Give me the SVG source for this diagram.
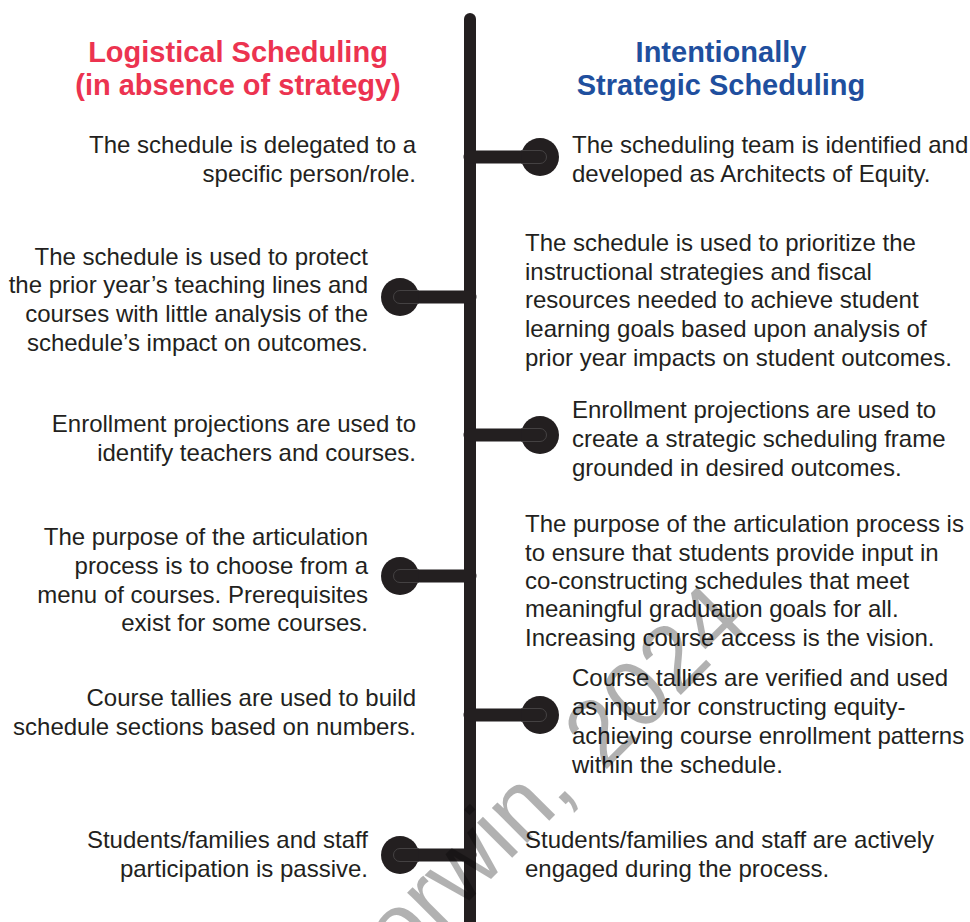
<svg xmlns="http://www.w3.org/2000/svg" width="970" height="922" viewBox="0 0 970 922">
  <style>
    .body { font-family: "Liberation Sans", Arial, Helvetica, sans-serif; font-size: 24px; fill: #231f20; }
    .end { text-anchor: end; }
    .title { font-family: "Liberation Sans", Arial, Helvetica, sans-serif; font-size: 29px; font-weight: bold; text-anchor: middle; }
    .red { fill: #ec3350; }
    .blue { fill: #1f4f9e; }
    .spine { stroke: #231f20; stroke-width: 12; stroke-linecap: round; fill: none; }
    .bar { stroke: #231f20; stroke-width: 13; stroke-linecap: round; fill: none; }
    .knob { fill: #231f20; }
    .rim { stroke: #4d4a4b; stroke-width: 0.8; fill: none; }
    .mark { font-family: "Liberation Sans", Arial, Helvetica, sans-serif; font-size: 94px; fill: #000; opacity: 0.3; }
  </style>

  <!-- column headings -->
  <g id="heading-left">
    <text class="title red" x="238" y="62">Logistical Scheduling</text>
    <text class="title red" x="238" y="95">(in absence of strategy)</text>
  </g>
  <g id="heading-right">
    <text class="title blue" x="721" y="62">Intentionally</text>
    <text class="title blue" x="721" y="95">Strategic Scheduling</text>
  </g>

  <!-- timeline spine and branches -->
  <g id="connectors">
    <line class="spine" x1="470" y1="19" x2="470" y2="940"/>
    <!-- right branches -->
    <line class="bar" x1="470" y1="157" x2="540" y2="157"/>
    <line class="bar" x1="470" y1="435" x2="540" y2="435"/>
    <line class="bar" x1="470" y1="715" x2="540" y2="715"/>
    <!-- left branches -->
    <line class="bar" x1="470" y1="297" x2="400" y2="297"/>
    <line class="bar" x1="470" y1="576" x2="400" y2="576"/>
    <line class="bar" x1="470" y1="855" x2="400" y2="855"/>
  </g>

  <!-- right-side entries -->
  <g id="r1">
    <circle class="knob" cx="540" cy="157" r="19"/>
    <path class="rim" d="M521 150.5H540A6.5 6.5 0 0 1 540 163.5H521"/>
    <text class="body" x="572" y="153">The scheduling team is identified and</text>
    <text class="body" x="572" y="182">developed as Architects of Equity.</text>
  </g>
  <g id="r2">
    <text class="body" x="525" y="251">The schedule is used to prioritize the</text>
    <text class="body" x="525" y="280">instructional strategies and fiscal</text>
    <text class="body" x="525" y="308">resources needed to achieve student</text>
    <text class="body" x="525" y="337">learning goals based upon analysis of</text>
    <text class="body" x="525" y="366">prior year impacts on student outcomes.</text>
  </g>
  <g id="r3">
    <circle class="knob" cx="540" cy="435" r="19"/>
    <path class="rim" d="M521 428.5H540A6.5 6.5 0 0 1 540 441.5H521"/>
    <text class="body" x="572" y="418">Enrollment projections are used to</text>
    <text class="body" x="572" y="447">create a strategic scheduling frame</text>
    <text class="body" x="572" y="476">grounded in desired outcomes.</text>
  </g>
  <g id="r4">
    <text class="body" x="525" y="532">The purpose of the articulation process is</text>
    <text class="body" x="525" y="561">to ensure that students provide input in</text>
    <text class="body" x="525" y="589">co-constructing schedules that meet</text>
    <text class="body" x="525" y="617">meaningful graduation goals for all.</text>
    <text class="body" x="525" y="646">Increasing course access is the vision.</text>
  </g>
  <g id="r5">
    <circle class="knob" cx="540" cy="715" r="19"/>
    <path class="rim" d="M521 708.5H540A6.5 6.5 0 0 1 540 721.5H521"/>
    <text class="body" x="572" y="686">Course tallies are verified and used</text>
    <text class="body" x="572" y="715">as input for constructing equity-</text>
    <text class="body" x="572" y="744">achieving course enrollment patterns</text>
    <text class="body" x="572" y="773">within the schedule.</text>
  </g>
  <g id="r6">
    <text class="body" x="525" y="848">Students/families and staff are actively</text>
    <text class="body" x="525" y="877">engaged during the process.</text>
  </g>

  <!-- left-side entries -->
  <g id="l1">
    <text class="body end" x="416" y="153">The schedule is delegated to a</text>
    <text class="body end" x="416" y="182">specific person/role.</text>
  </g>
  <g id="l2">
    <circle class="knob" cx="400" cy="297" r="19"/>
    <path class="rim" d="M419 290.5H400A6.5 6.5 0 0 0 400 303.5H419"/>
    <text class="body end" x="368" y="265">The schedule is used to protect</text>
    <text class="body end" x="368" y="293">the prior year’s teaching lines and</text>
    <text class="body end" x="368" y="322">courses with little analysis of the</text>
    <text class="body end" x="368" y="351">schedule’s impact on outcomes.</text>
  </g>
  <g id="l3">
    <text class="body end" x="416" y="432">Enrollment projections are used to</text>
    <text class="body end" x="416" y="461">identify teachers and courses.</text>
  </g>
  <g id="l4">
    <circle class="knob" cx="400" cy="576" r="19"/>
    <path class="rim" d="M419 569.5H400A6.5 6.5 0 0 0 400 582.5H419"/>
    <text class="body end" x="368" y="545">The purpose of the articulation</text>
    <text class="body end" x="368" y="574">process is to choose from a</text>
    <text class="body end" x="368" y="603">menu of courses. Prerequisites</text>
    <text class="body end" x="368" y="631">exist for some courses.</text>
  </g>
  <g id="l5">
    <text class="body end" x="416" y="706">Course tallies are used to build</text>
    <text class="body end" x="416" y="735">schedule sections based on numbers.</text>
  </g>
  <g id="l6">
    <circle class="knob" cx="400" cy="855" r="19"/>
    <path class="rim" d="M419 848.5H400A6.5 6.5 0 0 0 400 861.5H419"/>
    <text class="body end" x="368" y="848">Students/families and staff</text>
    <text class="body end" x="368" y="877">participation is passive.</text>
  </g>

  <!-- copyright mark, drawn diagonally over the lower half -->
  <g id="copyright">
    <text class="mark" transform="translate(578 792) rotate(-45)"><tspan x="0" y="0" text-anchor="end">Corwin,</tspan><tspan x="32" y="4">2024</tspan></text>
  </g>
</svg>
